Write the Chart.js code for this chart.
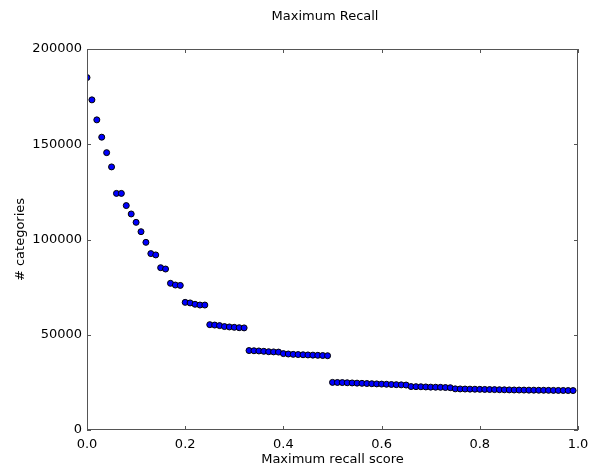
<!DOCTYPE html>
<html lang="en">
<head>
    <meta charset="UTF-8">
    <title>Maximum Recall</title>
    <script src="https://cdn.jsdelivr.net/npm/chart.js"></script>
    <style>
        html, body {
            margin: 0;
            padding: 0;
            background: #ffffff;
        }
        #recallChart {
            display: block;
        }
    </style>
</head>
<body>
    <canvas id="recallChart" width="597" height="472"></canvas>

    <script>
        // recall score thresholds (x)
        const recallScores = [
            0.00, 0.01, 0.02, 0.03, 0.04, 0.05, 0.06, 0.07, 0.08, 0.09,
            0.10, 0.11, 0.12, 0.13, 0.14, 0.15, 0.16, 0.17, 0.18, 0.19,
            0.20, 0.21, 0.22, 0.23, 0.24, 0.25, 0.26, 0.27, 0.28, 0.29,
            0.30, 0.31, 0.32, 0.33, 0.34, 0.35, 0.36, 0.37, 0.38, 0.39,
            0.40, 0.41, 0.42, 0.43, 0.44, 0.45, 0.46, 0.47, 0.48, 0.49,
            0.50, 0.51, 0.52, 0.53, 0.54, 0.55, 0.56, 0.57, 0.58, 0.59,
            0.60, 0.61, 0.62, 0.63, 0.64, 0.65, 0.66, 0.67, 0.68, 0.69,
            0.70, 0.71, 0.72, 0.73, 0.74, 0.75, 0.76, 0.77, 0.78, 0.79,
            0.80, 0.81, 0.82, 0.83, 0.84, 0.85, 0.86, 0.87, 0.88, 0.89,
            0.90, 0.91, 0.92, 0.93, 0.94, 0.95, 0.96, 0.97, 0.98, 0.99
        ];

        // number of categories reaching each score (y)
        const categoryCounts = [
            185000, 173300, 162800, 153700, 145600, 138100, 124200, 124200, 117800, 113400,
            109000, 104100, 98500, 92600, 91900, 85200, 84500, 77000, 76100, 75900,
            67000, 66700, 66000, 65600, 65600, 55300, 55100, 54800, 54300, 54100,
            53900, 53700, 53600, 41700, 41600, 41500, 41300, 41100, 41000, 40900,
            40100, 39900, 39700, 39600, 39500, 39400, 39300, 39200, 39100, 39000,
            25000, 24950, 24900, 24800, 24700, 24600, 24500, 24400, 24300, 24200,
            24100, 24000, 23900, 23800, 23700, 23600, 22800, 22750, 22700, 22600,
            22500, 22450, 22400, 22300, 22200, 21600, 21550, 21500, 21450, 21400,
            21350, 21300, 21250, 21200, 21150, 21100, 21050, 21000, 20980, 20950,
            20920, 20900, 20870, 20850, 20820, 20800, 20770, 20750, 20720, 20700
        ];

        const xTicks = [0, 0.2, 0.4, 0.6, 0.8, 1.0];
        const yTicks = [0, 50000, 100000, 150000, 200000];

        const chartTitle = 'Maximum Recall';
        const xLabel = 'Maximum recall score';
        const yLabel = '# categories';

        const FONT = 'DejaVu Sans';
        const FRAME = '#555555';

        // frame on all four sides with inward tick marks, plus the title
        const framePlugin = {
            id: 'frame',
            afterDatasetsDraw(chart) {
                const { ctx, chartArea: a, scales: { x, y } } = chart;
                ctx.save();
                ctx.strokeStyle = FRAME;
                ctx.lineWidth = 1;
                ctx.beginPath();
                xTicks.forEach(v => {
                    const px = Math.round(x.getPixelForValue(v)) + 0.5;
                    ctx.moveTo(px, a.bottom);
                    ctx.lineTo(px, a.bottom - 4);
                    ctx.moveTo(px, a.top);
                    ctx.lineTo(px, a.top + 4);
                });
                yTicks.forEach(v => {
                    const py = Math.round(y.getPixelForValue(v)) + 0.5;
                    ctx.moveTo(a.left, py);
                    ctx.lineTo(a.left + 4, py);
                    ctx.moveTo(a.right, py);
                    ctx.lineTo(a.right - 4, py);
                });
                ctx.stroke();
                ctx.strokeRect(a.left + 0.5, a.top + 0.5, a.right - a.left - 1, a.bottom - a.top - 1);
                ctx.restore();
            },
            afterDraw(chart) {
                const { ctx } = chart;
                ctx.save();
                ctx.fillStyle = '#000000';
                ctx.font = `13px "${FONT}"`;
                ctx.textAlign = 'center';
                ctx.textBaseline = 'middle';
                ctx.fillText(chartTitle, 325, 17);
                ctx.restore();
            }
        };

        new Chart(document.getElementById('recallChart'), {
            type: 'scatter',
            data: {
                datasets: [{
                    data: recallScores.map((r, i) => ({ x: r, y: categoryCounts[i] })),
                    backgroundColor: '#0000ff',
                    borderColor: '#000000',
                    borderWidth: 1,
                    pointRadius: 3,
                    pointHoverRadius: 3,
                    clip: 0
                }]
            },
            options: {
                responsive: false,
                animation: false,
                events: [],
                layout: {
                    padding: { top: 49, right: 19, left: 0, bottom: 0 }
                },
                plugins: {
                    legend: { display: false },
                    tooltip: { enabled: false },
                    title: { display: false }
                },
                scales: {
                    x: {
                        type: 'linear',
                        min: 0,
                        max: 1,
                        afterFit: (scale) => { scale.height = 42; },
                        afterBuildTicks: (scale) => { scale.ticks = xTicks.map(v => ({ value: v })); },
                        grid: { display: false, drawTicks: false },
                        border: { display: false },
                        ticks: {
                            padding: 7,
                            color: '#000000',
                            font: { family: FONT, size: 13 },
                            maxRotation: 0,
                            callback: (v) => v.toFixed(1)
                        },
                        title: {
                            display: true,
                            text: xLabel,
                            color: '#000000',
                            font: { family: FONT, size: 13 },
                            padding: { top: 0, bottom: 5 }
                        }
                    },
                    y: {
                        type: 'linear',
                        min: 0,
                        max: 200000,
                        afterFit: (scale) => { scale.width = 87; },
                        afterBuildTicks: (scale) => { scale.ticks = yTicks.map(v => ({ value: v })); },
                        grid: { display: false, drawTicks: false },
                        border: { display: false },
                        ticks: {
                            padding: 5,
                            color: '#000000',
                            font: { family: FONT, size: 13 },
                            callback: (v) => String(v)
                        },
                        title: {
                            display: true,
                            text: yLabel,
                            color: '#000000',
                            font: { family: FONT, size: 13 },
                            padding: { top: 13, bottom: 0 }
                        }
                    }
                }
            },
            plugins: [framePlugin]
        });
    </script>
</body>
</html>
